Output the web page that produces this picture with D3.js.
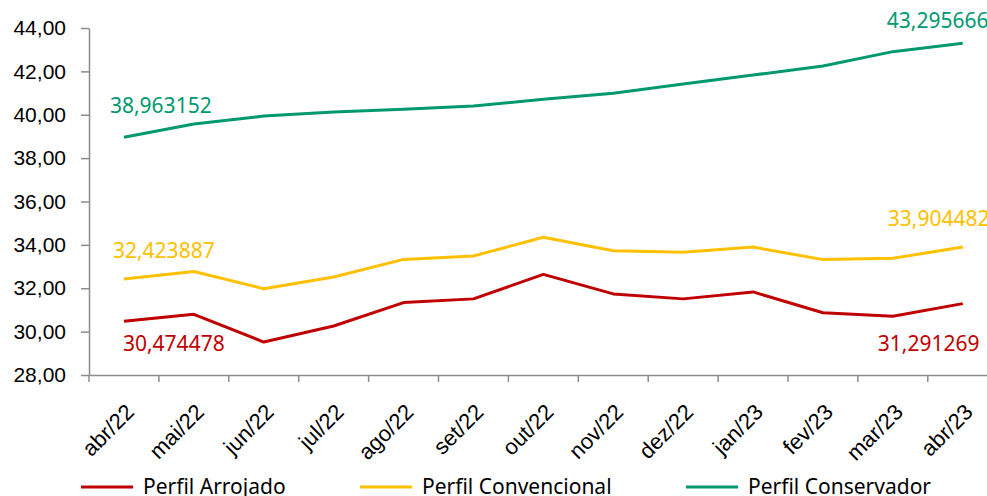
<!DOCTYPE html>
<html>
<head>
<meta charset="utf-8">
<script src="https://cdn.jsdelivr.net/npm/d3@7"></script>
<style>
  body { margin: 0; background: #fff; }
  svg { display: block; font-family: "Noto Sans", "Open Sans", sans-serif; }
  .axis path, .axis line { stroke: #8c8c8c; stroke-width: 1.5; }
  .axis text { fill: #000; font-size: 21px; }
</style>
</head>
<body>
<script>

var months = ["abr/22","mai/22","jun/22","jul/22","ago/22","set/22","out/22","nov/22","dez/22","jan/23","fev/23","mar/23","abr/23"];

var arrojado = [30.474478, 30.80, 29.52, 30.26, 31.34, 31.51, 32.64, 31.74, 31.51, 31.83, 30.87, 30.71, 31.291269];
var convencional = [32.423887, 32.77, 31.98, 32.52, 33.33, 33.49, 34.35, 33.73, 33.66, 33.90, 33.32, 33.38, 33.904482];
var conservador = [38.963152, 39.57, 39.94, 40.13, 40.25, 40.40, 40.71, 40.99, 41.42, 41.83, 42.25, 42.91, 43.295666];

var seriesNames = ["Perfil Arrojado", "Perfil Convencional", "Perfil Conservador"];
var seriesColors = ["#c00000", "#ffc000", "#00996f"];

var yTicks = [28, 30, 32, 34, 36, 38, 40, 42, 44];

var width = 987, height = 496;

var svg = d3.select("body").append("svg")
    .attr("width", width)
    .attr("height", height);

// SCALES
var xScale = d3.scaleBand()
    .domain(months)
    .range([89, 89 + 13 * 69.9])
    .paddingInner(0).paddingOuter(0);

var yScale = d3.scaleLinear()
    .domain([28, 44])
    .range([375, 28]);

var fmt = function(v, dec){ return v.toFixed(dec).replace(".", ","); };

// Y AXIS
var yAxis = d3.axisLeft(yScale)
    .tickValues(yTicks)
    .tickSize(8)
    .tickSizeOuter(0)
    .tickPadding(15)
    .tickFormat(function(d){ return fmt(d, 2); });

svg.append("g")
    .attr("class", "y axis")
    .attr("transform", "translate(89,0)")
    .call(yAxis);

// X AXIS: labels from the band scale, ticks between the categories
var xAxis = d3.axisBottom(xScale).tickSize(0).tickSizeOuter(0);

var xg = svg.append("g")
    .attr("class", "x axis")
    .attr("transform", "translate(0,375)")
    .call(xAxis);

xg.selectAll(".tick text")
    .attr("text-anchor", "end")
    .attr("dy", "0.35em")
    .attr("y", 0)
    .style("font-size", "22px")
    .attr("transform", "translate(6,33) rotate(-45)");

var boundaries = months.map(function(m){ return xScale(m); }).concat([xScale(months[12]) + xScale.bandwidth()]);

xg.selectAll(".between")
    .data(boundaries)
    .enter().append("line")
    .attr("class", "between")
    .attr("x1", function(d){ return d; })
    .attr("x2", function(d){ return d; })
    .attr("y1", 0)
    .attr("y2", 7);

// LINES
var line = d3.line()
    .x(function(d, i){ return xScale(months[i]) + xScale.bandwidth() / 2; })
    .y(function(d){ return yScale(d); });

var allSeries = [arrojado, convencional, conservador];

svg.selectAll(".serie")
    .data(allSeries)
    .enter().append("path")
    .attr("class", "serie")
    .attr("fill", "none")
    .attr("stroke-width", 3)
    .attr("stroke-linejoin", "round")
    .attr("stroke", function(d, i){ return seriesColors[i]; })
    .attr("d", line);

// DATA LABELS (first and last point of each series)
var labels = [
    {s: 0, i: 0, dx: -1, dy: 22},
    {s: 0, i: 12, dx: -85, dy: 40},
    {s: 1, i: 0, dx: -11, dy: -28},
    {s: 1, i: 12, dx: -75, dy: -28},
    {s: 2, i: 0, dx: -14, dy: -32},
    {s: 2, i: 12, dx: -76, dy: -23}
];

svg.selectAll(".dlabel")
    .data(labels)
    .enter().append("text")
    .attr("class", "dlabel")
    .attr("x", function(d){ return xScale(months[d.i]) + xScale.bandwidth() / 2 + d.dx; })
    .attr("y", function(d){ return yScale(allSeries[d.s][d.i]) + d.dy; })
    .attr("dy", "0.35em")
    .attr("font-size", "21px")
    .attr("fill", function(d){ return seriesColors[d.s]; })
    .text(function(d){ return fmt(allSeries[d.s][d.i], 6); });

// LEGEND
var legendX = [81, 360, 686];

var legend = svg.selectAll(".legend")
    .data(seriesNames)
    .enter().append("g")
    .attr("class", "legend")
    .attr("transform", function(d, i){ return "translate(" + legendX[i] + ",487)"; });

legend.append("line")
    .attr("x1", 0).attr("x2", 52)
    .attr("y1", 0).attr("y2", 0)
    .attr("stroke-width", 3)
    .attr("stroke", function(d, i){ return seriesColors[i]; });

legend.append("text")
    .attr("x", 62)
    .attr("dy", "0.35em")
    .attr("font-size", "21px")
    .attr("fill", "#000")
    .text(function(d){ return d; });

</script>
</body>
</html>
